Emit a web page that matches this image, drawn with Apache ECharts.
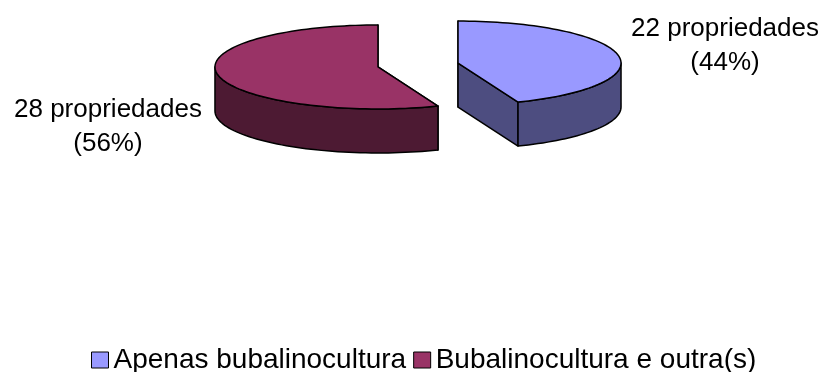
<!DOCTYPE html>
<html>
<head>
<meta charset="utf-8">
<script src="https://cdn.jsdelivr.net/npm/echarts@6/dist/echarts.min.js"></script>
<style>
  html, body { margin: 0; padding: 0; background: #fff; }
  #chart { width: 828px; height: 372px; }
</style>
</head>
<body>
<div id="chart"></div>
<script>
const categories = ['Apenas bubalinocultura', 'Bubalinocultura e outra(s)']
const values = [22, 28]
const unitLabel = 'propriedades'
const topColors = ['#9999FF', '#993366']
const sideColors = ['#4D4D80', '#4D1A33']

// pie geometry (flattened 3d look)
const cx = 418, cy = 65, rx = 163, ry = 42, depth = 44, explode = 0.25
const labelOffsets = [[104, -17], [-107, 60]]
const FONT_FAMILY = '"Liberation Sans", Arial, sans-serif'

const total = values.reduce((a, b) => a + b, 0)
const starts = []
let acc = 0
values.forEach(v => { starts.push(acc / total * Math.PI * 2); acc += v })

function pt(ox, oy, a, dy) {
  return [ox + rx * Math.sin(a), oy - ry * Math.cos(a) + (dy || 0)]
}

function arc(ox, oy, a0, a1, dy) {
  const pts = []
  const n = Math.max(2, Math.ceil((a1 - a0) / (Math.PI / 90)))
  for (let k = 0; k <= n; k++) pts.push(pt(ox, oy, a0 + (a1 - a0) * k / n, dy))
  return pts
}

function renderSlice(params, api) {
  const i = params.seriesIndex
  const a0 = starts[i]
  const a1 = a0 + values[i] / total * Math.PI * 2
  const mid = (a0 + a1) / 2
  const ox = cx + explode * rx * Math.sin(mid)
  const oy = cy - explode * ry * Math.cos(mid)
  const edge = { stroke: '#000', lineWidth: 1.5, lineJoin: 'round' }
  const children = []

  // radial walls (the hidden ones get covered by what follows)
  ;[a0, a1].forEach(a => {
    const p = pt(ox, oy, a)
    children.push({
      type: 'polygon',
      shape: { points: [[ox, oy], p, [p[0], p[1] + depth], [ox, oy + depth]] },
      style: Object.assign({ fill: sideColors[i] }, edge)
    })
  })

  // outer wall, front half only
  const f0 = Math.max(a0, Math.PI / 2)
  const f1 = Math.min(a1, Math.PI * 1.5)
  if (f1 > f0) {
    const topArc = arc(ox, oy, f0, f1, 0)
    const botArc = arc(ox, oy, f0, f1, depth).reverse()
    children.push({
      type: 'polygon',
      shape: { points: topArc.concat(botArc) },
      style: Object.assign({ fill: sideColors[i] }, edge)
    })
  }

  // top face
  children.push({
    type: 'polygon',
    shape: { points: [[ox, oy]].concat(arc(ox, oy, a0, a1, 0)) },
    style: Object.assign({ fill: topColors[i] }, edge)
  })

  // label beside the slice
  const side = Math.sin(mid) >= 0 ? 1 : -1
  const pct = Math.round(values[i] / total * 100)
  children.push({
    type: 'text',
    style: {
      text: values[i] + ' ' + unitLabel + '\n(' + pct + '%)',
      x: ox + side * rx + labelOffsets[i][0],
      y: oy + labelOffsets[i][1],
      font: '26px ' + FONT_FAMILY,
      fill: '#000',
      align: 'center',
      verticalAlign: 'middle',
      lineHeight: 34
    }
  })

  return { type: 'group', children }
}

const chart = echarts.init(document.getElementById('chart'))
chart.setOption({
  animation: false,
  legend: {
    data: categories,
    left: 86,
    top: 341,
    icon: 'rect',
    itemWidth: 17,
    itemHeight: 16,
    itemGap: 7,
    itemStyle: { borderColor: '#000', borderWidth: 1 },
    textStyle: { fontSize: 28, fontFamily: FONT_FAMILY, color: '#000' }
  },
  series: categories.map((name, i) => ({
    name,
    type: 'custom',
    coordinateSystem: 'none',
    itemStyle: { color: topColors[i] },
    renderItem: renderSlice,
    data: [values[i]]
  }))
})

window.addEventListener('resize', () => chart.resize())
</script>
</body>
</html>
